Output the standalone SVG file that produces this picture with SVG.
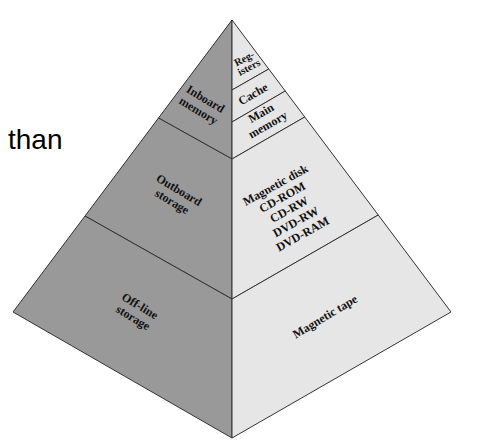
<svg xmlns="http://www.w3.org/2000/svg" width="499" height="444" viewBox="0 0 499 444">
<style>
.l{fill:#999999;stroke:#333333;stroke-width:1;stroke-linejoin:round}
.r{fill:#e6e6e6;stroke:#333333;stroke-width:1;stroke-linejoin:round}
.t{font-family:"Liberation Serif","Times New Roman",serif;font-weight:bold;font-size:12px;fill:#111111;text-anchor:middle;dominant-baseline:central}
.s{font-size:10.5px}
</style>
<rect width="499" height="444" fill="#ffffff"/>
<text x="8" y="149" font-family="Liberation Sans, Arial, sans-serif" font-size="28" fill="#000000">than</text>
<g id="inboard">
<polygon class="l" points="232,20 232,159 158.5,118"/>
<text class="t" transform="translate(205.5,99) rotate(31)"><tspan x="0" y="0">Inboard</tspan><tspan x="0" dy="13.5">memory</tspan></text>
</g>
<g id="outboard">
<polygon class="l" points="158.5,118 232,159 232,299 85,216"/>
<text class="t" transform="translate(179,190) rotate(31)"><tspan x="0" y="0">Outboard</tspan><tspan x="0" dy="13.5">storage</tspan></text>
</g>
<g id="offline">
<polygon class="l" points="85,216 232,299 232,438 13,312"/>
<text class="t" transform="translate(140,306) rotate(31)"><tspan x="0" y="0">Off-line</tspan><tspan x="0" dy="13.5">storage</tspan></text>
</g>
<g id="registers">
<polygon class="r" points="232,20 268.75,69 232,90"/>
<text class="t s" transform="translate(244,58) rotate(-28)"><tspan x="0" y="0">Reg-</tspan><tspan x="0" dy="10">isters</tspan></text>
</g>
<g id="cache">
<polygon class="r" points="232,90 268.75,69 285.25,91 232,122"/>
<text class="t" transform="translate(253,94) rotate(-30)">Cache</text>
</g>
<g id="main">
<polygon class="r" points="232,122 285.25,91 304.75,117 232,159"/>
<text class="t" transform="translate(261,113) rotate(-30)"><tspan x="0" y="0">Main</tspan><tspan x="0" dy="13.5">memory</tspan></text>
</g>
<g id="disk">
<polygon class="r" points="232,159 304.75,117 378.25,215 232,299"/>
<text class="t" transform="translate(275.5,185) rotate(-29)"><tspan x="0" y="0">Magnetic disk</tspan><tspan x="0" dy="14">CD-ROM</tspan><tspan x="0" dy="14">CD-RW</tspan><tspan x="0" dy="14">DVD-RW</tspan><tspan x="0" dy="14">DVD-RAM</tspan></text>
</g>
<g id="tape">
<polygon class="r" points="232,299 378.25,215 451,312 232,438"/>
<text class="t" transform="translate(325,316.5) rotate(-31)">Magnetic tape</text>
</g>
<g id="connectors"/>
</svg>
